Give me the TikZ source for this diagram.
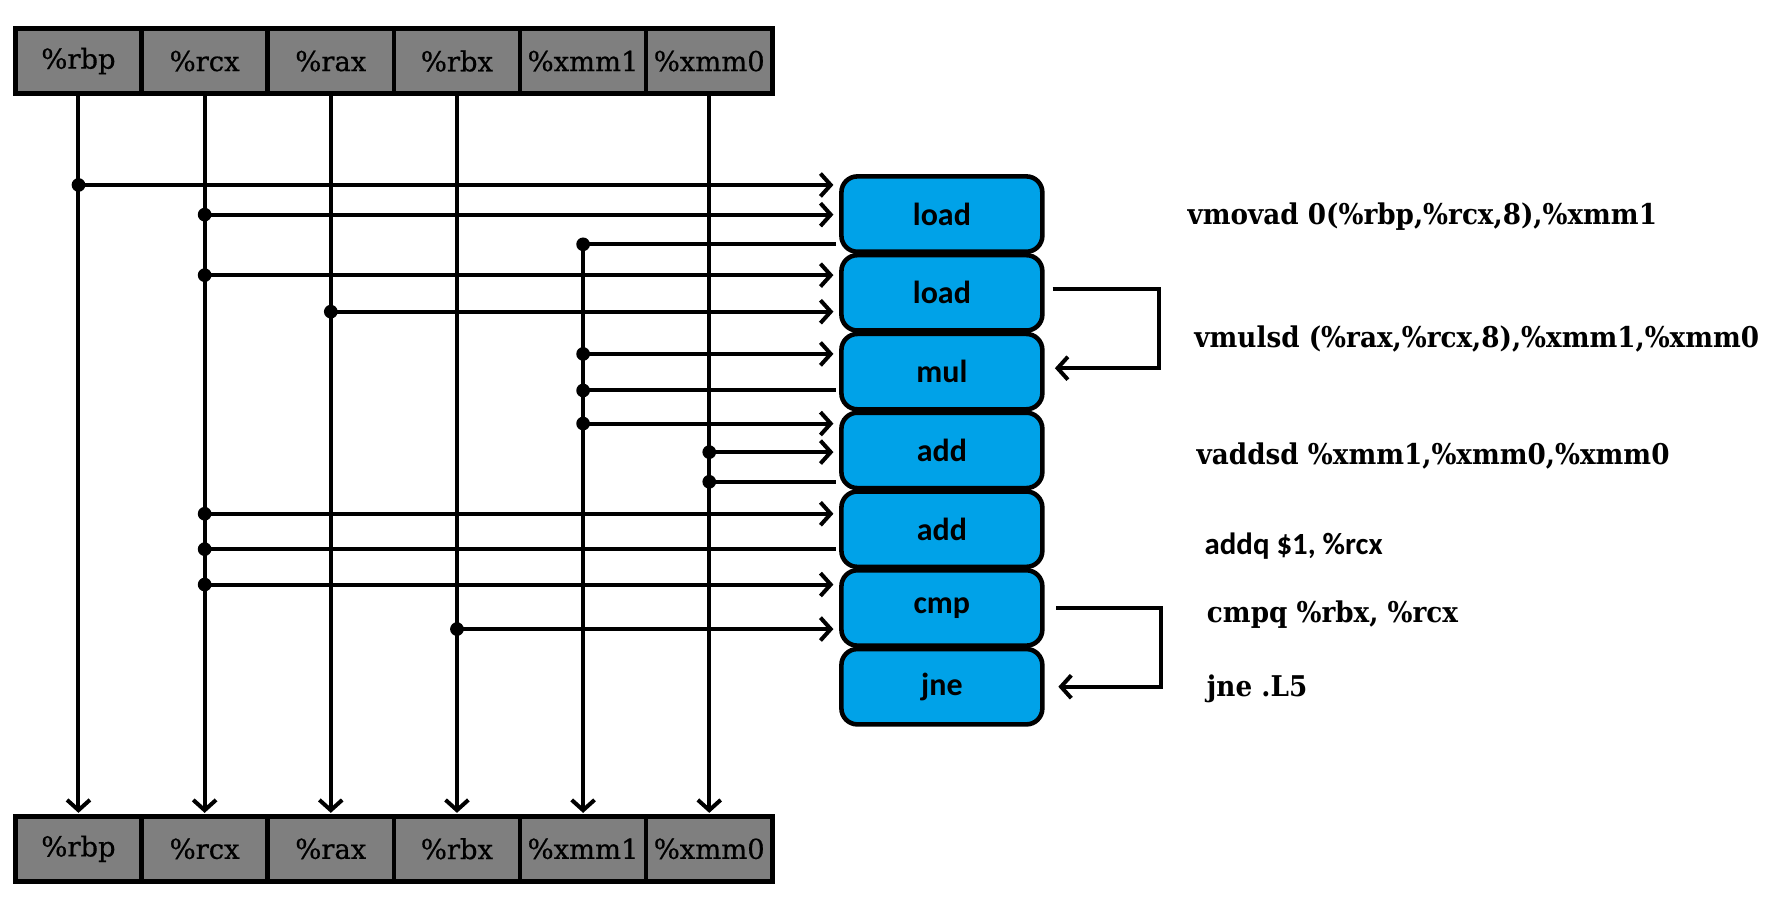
\documentclass[tikz,border=0pt]{standalone}
\usepackage{fontspec}
\setmainfont{DejaVu Serif}
\newfontfamily\boxfont{Carlito}
\newfontfamily\regfont[FakeBold=0.6]{DejaVu Serif}
\newfontfamily\asmfont[FakeStretch=0.92]{DejaVu Serif}
\usetikzlibrary{arrows.meta}
\definecolor{regGray}{HTML}{7F7F7F}
\definecolor{opBlue}{HTML}{00A2E8}
\begin{document}
\begin{tikzpicture}[x=1pt,y=-1pt,
  reg/.style={draw=black, line width=4pt, fill=regGray, minimum width=110.5pt, minimum height=57pt, inner sep=0pt, font=\regfont\fontsize{24}{28}\selectfont},
  op/.style={draw=black, line width=4pt, fill=opBlue, rounded corners=14pt, minimum width=176pt, minimum height=66pt, inner sep=0pt, font=\boxfont\fontsize{28}{32}\selectfont\bfseries},
  wire/.style={line width=3.5pt},
  arr/.style={wire, -{Straight Barb[length=9pt,width=20pt]}},
  asm/.style={anchor=base west, inner sep=0pt, font=\asmfont\fontsize{25}{30}\selectfont\bfseries},
  asmsans/.style={anchor=base west, inner sep=0pt, font=\boxfont\fontsize{27}{32}\selectfont\bfseries}
]
\useasboundingbox[fill=white] (0,0) rectangle (1560,801.5);

% register rows
\foreach \i/\r in {1/\%rbp,2/\%rcx,3/\%rax,4/\%rbx,5/\%xmm1,6/\%xmm0}{
  \node[reg] (t\i) at ({13.5+110.5*(\i-0.5)},53.5) {\r};
  \node[reg] (b\i) at ({13.5+110.5*(\i-0.5)},743.5) {\r};
}

% operation stack
\node[op] (ld1) at (825,187.5) {load};
\node[op] (ld2) at (825,256.5) {load};
\node[op] (mul) at (825,325.5) {mul};
\node[op] (ad1) at (825,394.5) {add};
\node[op] (ad2) at (825,463.5) {add};
\node[op] (cmp) at (825,532.5) {cmp};
\node[op] (jne) at (825,601.5) {jne};

% vertical register lines
\foreach \i in {1,2,3,4,6}{
  \draw[arr, shorten >=1pt] (t\i.south) -- (b\i.north);
}
\draw[arr, shorten >=1pt] (t5 |- 0,214) -- (b5.north);

% inputs into operations
\coordinate (sx) at (730,0);
\coordinate (so) at (732,0);
\foreach \c/\y in {1/162,2/188,2/241,3/273,5/310,5/371,6/396,2/450,2/512,4/551}{
  \fill (t\c |- 0,\y) circle (6pt);
  \draw[arr] (t\c |- 0,\y) -- (sx |- 0,\y);
}
% outputs back to registers
\foreach \c/\y in {5/214,5/342,6/422,2/481}{
  \fill (t\c |- 0,\y) circle (6pt);
  \draw[wire] (so |- 0,\y) -- (t\c |- 0,\y);
}

% feedback connectors
\draw[arr] ([xshift=7pt,yshift=3pt]ld2.east) -- ++(93,0) |- ([xshift=9pt,yshift=3pt]mul.east);
\draw[arr] ([xshift=10pt]cmp.east) -- ++(92,0) |- ([xshift=12pt]jne.east);

% assembly text
\node[asm] (i1) at (1040,197) {vmovad 0(\%rbp,\%rcx,8),\%xmm1};
\node[asm] (i2) at (1046,304) {vmulsd (\%rax,\%rcx,8),\%xmm1,\%xmm0};
\node[asm] (i3) at (1048,407) {vaddsd \%xmm1,\%xmm0,\%xmm0};
\node[asmsans] (i4) at (1055,486) {addq \$1, \%rcx};
\node[asm] (i5) at (1057,545) {cmpq \%rbx, \%rcx};
\node[asm] (i6) at (1057,610) {jne .L5};
\end{tikzpicture}
\end{document}
